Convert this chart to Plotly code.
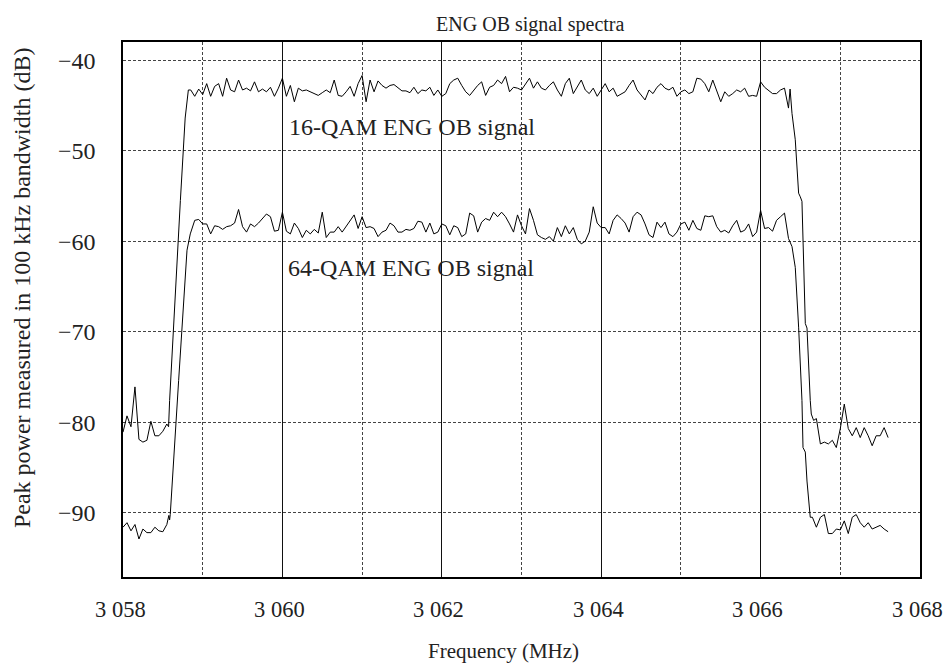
import plotly.graph_objects as go

# ---------------- data ----------------
F_STEP = 0.05  # analyser sample spacing, MHz

# 16-QAM ENG OB signal
UP_LEFT_START = 3058.00
UP_LEFT_DB = [-81.1, -79.3, -80.5, -76.1, -81.9, -82.2, -82.0, -79.9, -81.5, -81.5, -81.0, -80.2]
UP_RISE_F = [3058.572, 3058.585, 3058.72, 3058.78, 3058.82]
UP_RISE_DB = [-80.5, -77.6, -55.5, -46.4, -43.3]
UP_PLAT_START = 3058.85
UP_PLAT_DB = [
    -43.3, -44.0, -43.2, -43.8, -42.6, -44.0, -42.9, -42.6, -44.0, -42.0,
    -43.3, -43.5, -42.2, -43.3, -43.1, -43.4, -42.4, -43.5, -43.2, -43.5,
    -43.0, -44.0, -43.1, -42.0, -44.0, -42.8, -44.6, -43.1, -43.4, -43.3,
    -43.5, -43.7, -43.9, -43.6, -43.3, -43.6, -42.2, -43.9, -44.0, -43.5,
    -42.9, -44.0, -42.6, -41.7, -44.6, -42.2, -43.5, -42.3, -42.8, -43.1,
    -42.8, -42.7, -43.0, -43.4, -43.4, -43.6,
    -43.0, -43.7, -43.3, -43.4, -43.0, -43.9, -43.3, -44.0, -43.7, -42.6,
    -42.2, -42.0, -42.8, -43.5, -43.9, -43.3, -42.8, -42.4, -43.9, -43.0,
    -42.8, -42.2, -42.6, -41.8, -43.5, -43.0, -43.1, -43.3, -42.6, -42.0,
    -43.1, -42.4, -43.1, -43.3, -42.8, -42.4, -43.3, -44.0, -42.6, -42.0,
    -43.7, -43.0, -42.2, -43.3, -43.7, -43.1, -44.0, -43.3, -42.6, -43.5,
    -43.1, -44.0, -43.7, -43.5, -42.8, -42.2, -43.3, -43.9, -44.4, -43.3,
    -43.7, -43.0, -42.6, -43.1, -43.3, -43.0, -44.0, -43.5, -43.3, -43.7,
    -43.5, -42.0,
    -42.1,
    -42.6, -43.5, -42.2, -43.5, -44.6, -43.5, -44.0, -43.7, -43.3, -43.5,
    -43.1, -44.0, -43.9, -44.0, -42.4, -43.0, -43.3, -43.7, -43.7, -43.3,
    -43.1, -45.3,
]
UP_FALL_F = [3066.37, 3066.394, 3066.435, 3066.477, 3066.498, 3066.519, 3066.561, 3066.582, 3066.623, 3066.636, 3066.665]
UP_FALL_DB = [-43.2, -45.9, -48.8, -54.7, -55.1, -55.6, -69.1, -69.6, -77.6, -79.1, -79.8]
UP_RIGHT_START = 3066.70
UP_RIGHT_DB = [-79.6, -82.4, -82.2, -82.4, -82.0, -82.8, -80.7, -78.0, -80.7, -81.5,
               -80.6, -81.7, -80.6, -81.5, -82.6, -81.5, -81.5, -80.6, -81.7]

# 64-QAM ENG OB signal
LO_LEFT_START = 3058.00
LO_LEFT_DB = [-91.6, -91.1, -92.0, -91.3, -92.9, -91.8, -92.2, -92.2, -91.6, -92.0, -92.1, -91.3]
LO_RISE_F = [3058.575, 3058.585, 3058.593, 3058.678, 3058.698, 3058.803, 3058.844]
LO_RISE_DB = [-90.3, -90.8, -90.2, -77.6, -75.4, -61.0, -59.2]
LO_PLAT_START = 3058.90
LO_PLAT_DB = [
    -57.7, -57.6, -58.1, -58.1, -59.2, -58.3, -58.4, -58.7, -58.4, -58.3,
    -58.0, -56.5, -58.4, -59.0, -58.1, -58.4, -58.0, -57.5, -57.0, -57.3,
    -58.9, -58.8, -56.8, -58.9, -59.2, -58.0, -58.6, -59.6, -58.8, -59.2,
    -58.7, -59.1, -56.8, -59.6, -59.0, -59.0, -58.4, -59.0, -58.4, -57.8,
    -57.1, -58.6, -57.3, -58.5, -58.4, -58.6, -59.5, -59.0, -58.8, -58.0,
    -58.3, -59.0, -59.0, -58.7, -58.8,
    -58.6, -57.8, -57.9, -59.0, -58.0, -59.2, -59.0, -58.1, -58.3, -59.3,
    -58.3, -58.5, -59.5, -59.2, -56.9, -57.2, -59.0, -57.9, -57.5, -57.7,
    -56.8, -57.3, -56.8, -57.3, -58.1, -59.0, -57.1, -58.3, -59.2, -56.4,
    -57.7, -59.3, -59.6, -59.8, -59.5, -60.0, -58.5, -59.5, -58.3, -59.2,
    -58.5, -59.8, -60.3, -60.0, -59.0, -56.2, -58.0, -58.5, -58.5, -59.2,
    -57.7, -57.1, -57.5, -58.0, -59.0, -57.3, -56.8, -57.1, -58.1, -59.3,
    -59.6, -57.9, -58.5, -57.9, -59.2, -59.5, -59.0, -58.1, -57.9, -58.8,
    -57.7, -58.6,
    -58.8, -57.2, -57.3, -57.2, -58.4, -59.0, -58.8, -59.1, -58.3, -57.7,
    -59.0, -58.8, -58.1, -59.5, -59.0, -56.6, -58.6, -58.5, -58.9, -57.7,
    -57.3, -56.9, -59.7,
]
LO_FALL_F = [3066.394, 3066.435, 3066.477, 3066.519, 3066.532, 3066.561, 3066.582, 3066.623]
LO_FALL_DB = [-60.6, -62.9, -69.5, -77.6, -82.8, -83.3, -86.5, -90.5]
LO_RIGHT_START = 3066.65
LO_RIGHT_DB = [-90.5, -91.6, -90.5, -90.2, -92.3, -92.3, -91.8, -91.9, -90.9, -92.3,
               -90.5, -90.2, -91.1, -91.6, -91.1, -91.8, -91.6, -91.4, -91.8, -92.1]

X_MAJOR = [3058, 3060, 3062, 3064, 3066, 3068]
X_MAJOR_TEXT = ["3 058", "3 060", "3 062", "3 064", "3 066", "3 068"]
X_MINOR = [3059, 3061, 3063, 3065, 3067]
Y_TICKS = [-40, -50, -60, -70, -80, -90]
Y_TICK_TEXT = ["\u221240", "\u221250", "\u221260", "\u221270", "\u221280", "\u221290"]

TITLE = "ENG OB signal spectra"
X_TITLE = "Frequency (MHz)"
Y_TITLE = "Peak power measured in 100 kHz bandwidth (dB)"
LABEL_16 = "16-QAM ENG OB signal"
LABEL_64 = "64-QAM ENG OB signal"


def grid(start, n):
    return [round(start + F_STEP * i, 4) for i in range(n)]


def assemble(ls, ldb, rf, rdb, ps, pdb, ff, fdb, rs, rrdb):
    x = grid(ls, len(ldb)) + rf + grid(ps, len(pdb)) + ff + grid(rs, len(rrdb))
    y = ldb + rdb + pdb + fdb + rrdb
    return x, y


up_x, up_y = assemble(UP_LEFT_START, UP_LEFT_DB, UP_RISE_F, UP_RISE_DB, UP_PLAT_START, UP_PLAT_DB,
                      UP_FALL_F, UP_FALL_DB, UP_RIGHT_START, UP_RIGHT_DB)
lo_x, lo_y = assemble(LO_LEFT_START, LO_LEFT_DB, LO_RISE_F, LO_RISE_DB, LO_PLAT_START, LO_PLAT_DB,
                      LO_FALL_F, LO_FALL_DB, LO_RIGHT_START, LO_RIGHT_DB)

FONT = "Liberation Serif, Times New Roman, serif"
TXT = "#222222"

# the page's body margin is removed (post_script below), so the figure fills the 946x668 window
W, H = 946, 668
ML, MR, MT, MB = 123, 26, 42, 91
PLOT_W = W - ML - MR
PLOT_H = H - MT - MB

fig = go.Figure()
fig.add_trace(go.Scatter(x=up_x, y=up_y, mode="lines", line=dict(color="black", width=1.0),
                         name=LABEL_16, hoverinfo="skip"))
fig.add_trace(go.Scatter(x=lo_x, y=lo_y, mode="lines", line=dict(color="black", width=1.0),
                         name=LABEL_64, hoverinfo="skip"))

fig.add_annotation(x=3060.06, y=-47.4, text=LABEL_16, showarrow=False, xanchor="left",
                   yanchor="middle", font=dict(family=FONT, size=24, color=TXT))
fig.add_annotation(x=3060.05, y=-63.0, text=LABEL_64, showarrow=False, xanchor="left",
                   yanchor="middle", font=dict(family=FONT, size=24, color=TXT))

# x tick labels as text on the x scale
for v, t in zip(X_MAJOR, X_MAJOR_TEXT):
    fig.add_annotation(x=v, xref="x", y=0, yref="paper", text=t, showarrow=False,
                       xanchor="center", yanchor="middle", xshift=-3, yshift=-32,
                       font=dict(family=FONT, size=22.5, color=TXT))

# axis titles (placed as in the reference: slightly off-centre)
fig.add_annotation(xref="paper", yref="paper", x=0.4768, y=0, yshift=-74, text=X_TITLE,
                   showarrow=False, xanchor="center", yanchor="middle",
                   font=dict(family=FONT, size=21, color=TXT))
fig.add_annotation(xref="paper", yref="paper", x=-101 / PLOT_W, y=0.540, text=Y_TITLE,
                   textangle=-90, showarrow=False, xanchor="center", yanchor="middle",
                   font=dict(family=FONT, size=24, color=TXT))

fig.update_layout(
    width=W, height=H,
    margin=dict(l=ML, r=MR, t=MT, b=MB, autoexpand=False),
    paper_bgcolor="white", plot_bgcolor="white",
    showlegend=False,
    font=dict(family=FONT, size=24, color=TXT),
    title=dict(text=TITLE, x=0.511, xref="paper", xanchor="center",
               y=1 - 24 / H, yref="container", yanchor="middle",
               font=dict(family=FONT, size=20, color=TXT)),
)

fig.update_xaxes(
    range=[3058, 3068], tickmode="array", tickvals=X_MAJOR, ticktext=X_MAJOR_TEXT,
    showticklabels=False, ticks="",
    showgrid=True, gridcolor="#111111", gridwidth=1,
    minor=dict(tickvals=X_MINOR, showgrid=True, gridcolor="#444444", gridwidth=1,
               griddash="3px,2px", ticks=""),
    showline=True, mirror=True, linecolor="black", linewidth=1.5,
    zeroline=False, automargin=False,
)
fig.update_yaxes(
    range=[-97.1, -38.0], tickmode="array", tickvals=Y_TICKS, ticktext=Y_TICK_TEXT,
    ticks="", ticklabelstandoff=21, ticklabeloverflow="allow",
    showgrid=True, gridcolor="#444444", gridwidth=1, griddash="3px,2px",
    showline=True, mirror=True, linecolor="black", linewidth=1.5,
    zeroline=False, automargin=False,
    tickfont=dict(family=FONT, size=24, color=TXT),
)

fig.write_html(
    "out.html",
    config={"displayModeBar": False},
    post_script="document.body.style.margin='0';document.body.style.overflow='hidden';",
)
